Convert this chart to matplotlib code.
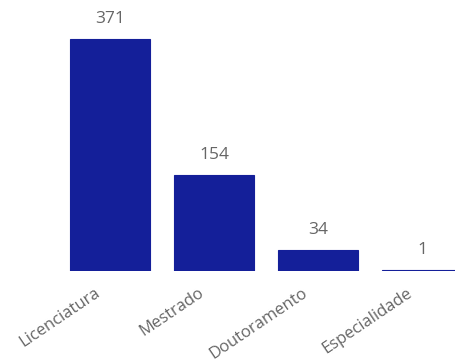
import matplotlib
matplotlib.use("Agg")
import matplotlib.pyplot as plt
import matplotlib.transforms as mtransforms

categories = ["Licenciatura", "Mestrado", "Doutoramento", "Especialidade"]
values = [371, 154, 34, 1]

plt.rcParams['font.family'] = ['Open Sans', 'DejaVu Sans']

W, H = 455, 364
fig = plt.figure(figsize=(W / 100, H / 100), dpi=100)
bottom_px = 271
ax = fig.add_axes([0, (H - bottom_px) / H, 1, bottom_px / H])

color = "#141f99"
x = list(range(len(categories)))
bars = ax.bar(x, values, width=0.77, color=color, edgecolor=color, linewidth=0.8)

pitch = 104
x0 = 110
ax.set_xlim(-x0 / pitch, (W - x0) / pitch)
ax.set_ylim(0, bottom_px / 0.625)

for xi, v in zip(x, values):
    ax.annotate(str(v), (xi, v), xytext=(0, 12), textcoords="offset pixels",
                ha="center", va="bottom", fontsize=12.5, color="#666666")

for s in ax.spines.values():
    s.set_visible(False)
ax.set_yticks([])
ax.set_xticks(x)
ax.set_xticklabels(categories, rotation=34, ha="right", rotation_mode="anchor",
                   fontsize=12, color="#666666")
ax.tick_params(axis="x", length=0, pad=10)
offset = mtransforms.ScaledTranslation(-16 / 100, 0, fig.dpi_scale_trans)
for lbl in ax.get_xticklabels():
    lbl.set_transform(lbl.get_transform() + offset)

fig.savefig("out.png", dpi=100)
